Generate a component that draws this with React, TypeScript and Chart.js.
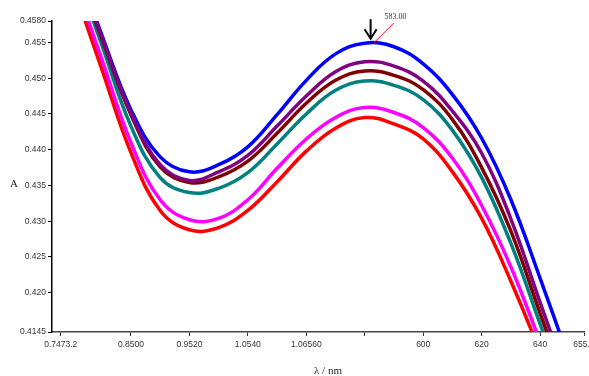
import React, { useEffect, useRef } from 'react';
import { Chart, registerables } from 'chart.js';

Chart.register(...registerables);

// Wavelength (nm)
const wavelengths = [480, 490, 500, 510, 520, 530, 540, 550, 560, 570, 580, 590, 600, 610, 620, 630, 640, 650];

// Absorbance series
const seriesBlue = [0.4674, 0.4561, 0.4456, 0.4390, 0.4369, 0.4379, 0.4404, 0.4449, 0.4497, 0.4534, 0.4549, 0.4544, 0.4520, 0.4477, 0.4416, 0.4330, 0.4220, 0.4105];
const seriesPurple = [0.4671, 0.4558, 0.4451, 0.4379, 0.4357, 0.4369, 0.4392, 0.4433, 0.4475, 0.4509, 0.4523, 0.4517, 0.4496, 0.4454, 0.4395, 0.4303, 0.4186, 0.4071];
const seriesMaroon = [0.4669, 0.4556, 0.4449, 0.4376, 0.4354, 0.4362, 0.4384, 0.4423, 0.4465, 0.4497, 0.4510, 0.4504, 0.4484, 0.4442, 0.4375, 0.4286, 0.4171, 0.4057];
const seriesTeal = [0.4662, 0.4547, 0.4433, 0.4361, 0.4340, 0.4346, 0.4368, 0.4408, 0.4450, 0.4483, 0.4496, 0.4490, 0.4470, 0.4427, 0.4361, 0.4269, 0.4156, 0.4043];
const seriesMagenta = [0.4644, 0.4527, 0.4410, 0.4330, 0.4302, 0.4304, 0.4330, 0.4374, 0.4415, 0.4445, 0.4459, 0.4452, 0.4431, 0.4388, 0.4322, 0.4236, 0.4131, 0.4020];
const seriesRed = [0.4632, 0.4513, 0.4396, 0.4315, 0.4288, 0.4291, 0.4315, 0.4355, 0.4398, 0.4430, 0.4445, 0.4436, 0.4415, 0.4369, 0.4304, 0.4216, 0.4116, 0.4002];

// Tick positions and labels
const xTickValues = [476, 500, 520, 540, 560, 580, 600, 620, 640, 655];
const xTickLabels = ['0.7473.2', '0.8500', '0.9520', '1.0540', '1.06560', '', '600', '620', '640', '655.0'];
const yTickValues = [0.4145, 0.42, 0.425, 0.43, 0.435, 0.44, 0.445, 0.45, 0.455, 0.458];
const yTickLabels = ['0.4145', '0.420', '0.425', '0.430', '0.435', '0.440', '0.445', '0.450', '0.455', '0.4580'];

const peakWavelength = 582;
const peakValue = 0.4549;
const peakLabel = '583.00';
const xTitle = 'λ / nm';
const yTitle = 'A';

const annotationPlugin = {
  id: 'annot',
  afterDraw(chart: any) {
    const { ctx, scales, chartArea } = chart;
    const x = scales.x.getPixelForValue(peakWavelength);
    const y = scales.y.getPixelForValue(peakValue);
    ctx.save();
    ctx.strokeStyle = '#000';
    ctx.lineWidth = 2;
    ctx.beginPath();
    ctx.moveTo(x, y - 24);
    ctx.lineTo(x, y - 5);
    ctx.stroke();
    ctx.beginPath();
    ctx.moveTo(x - 6, y - 14);
    ctx.lineTo(x, y - 4.5);
    ctx.lineTo(x + 6, y - 14);
    ctx.stroke();
    ctx.strokeStyle = '#ff0000';
    ctx.lineWidth = 1;
    ctx.beginPath();
    ctx.moveTo(x + 3, y);
    ctx.lineTo(x + 23, y - 20);
    ctx.stroke();
    ctx.fillStyle = '#333';
    ctx.font = '8px "Liberation Serif"';
    ctx.textAlign = 'center';
    ctx.textBaseline = 'middle';
    ctx.fillText(peakLabel, x + 25, y - 26);
    ctx.fillStyle = '#222';
    ctx.font = '11px "Liberation Serif"';
    ctx.fillText(yTitle, 14, (chartArea.top + chartArea.bottom) / 2 + 8);
    ctx.fillText(xTitle, (chartArea.left + chartArea.right) / 2 + 10, 371);
    ctx.restore();
  },
};

export default function App() {
  const ref = useRef<HTMLCanvasElement | null>(null);
  useEffect(() => {
    document.body.style.margin = '0';
    const mk = (data: number[], color: string) => ({
      data: wavelengths.map((w, i) => ({ x: w, y: data[i] })),
      borderColor: color,
      backgroundColor: color,
      borderWidth: 3.5,
      pointRadius: 0,
      tension: 0.4,
      fill: false,
    });
    const chart = new Chart(ref.current as HTMLCanvasElement, {
      type: 'line',
      data: {
        datasets: [
          mk(seriesPurple, '#800080'),
          mk(seriesMaroon, '#800000'),
          mk(seriesBlue, '#0000ff'),
          mk(seriesTeal, '#008080'),
          mk(seriesMagenta, '#ff00ff'),
          mk(seriesRed, '#ff0000'),
        ],
      },
      options: {
        animation: false,
        responsive: true,
        maintainAspectRatio: false,
        layout: { padding: { top: 21, right: 5, left: 0, bottom: 0 } },
        plugins: { legend: { display: false }, tooltip: { enabled: false } },
        scales: {
          x: {
            type: 'linear',
            min: 473,
            max: 655,
            afterBuildTicks: (s: any) => {
              s.ticks = xTickValues.map((v) => ({ value: v }));
            },
            afterFit: (s: any) => {
              s.height = 44;
              s.paddingLeft = 0;
              s.paddingRight = 0;
            },
            ticks: {
              autoSkip: false,
              maxRotation: 0,
              padding: 4,
              color: '#333',
              font: { family: '"Liberation Sans"', size: 8.5 },
              callback: (_v: any, i: number) => xTickLabels[i],
            },
            grid: { drawOnChartArea: false, drawTicks: true, tickLength: 4, color: '#333', lineWidth: 1 },
            border: { display: true, color: '#444', width: 1.5 },
          },
          y: {
            type: 'linear',
            min: 0.4145,
            max: 0.458,
            afterBuildTicks: (s: any) => {
              s.ticks = yTickValues.map((v) => ({ value: v }));
            },
            afterFit: (s: any) => {
              s.width = 52;
              s.paddingTop = 0;
              s.paddingBottom = 0;
            },
            ticks: {
              autoSkip: false,
              padding: 2,
              color: '#333',
              font: { family: '"Liberation Sans"', size: 8.5 },
              callback: (_v: any, i: number) => yTickLabels[i],
            },
            grid: { drawOnChartArea: false, drawTicks: true, tickLength: 4, color: '#000', lineWidth: 1 },
            border: { display: true, color: '#000', width: 1.5 },
          },
        },
      },
      plugins: [annotationPlugin],
    });
    return () => chart.destroy();
  }, []);
  return (
    <div style={{ width: 589, height: 376, position: 'relative', background: '#fff' }}>
      <canvas ref={ref} />
    </div>
  );
}
